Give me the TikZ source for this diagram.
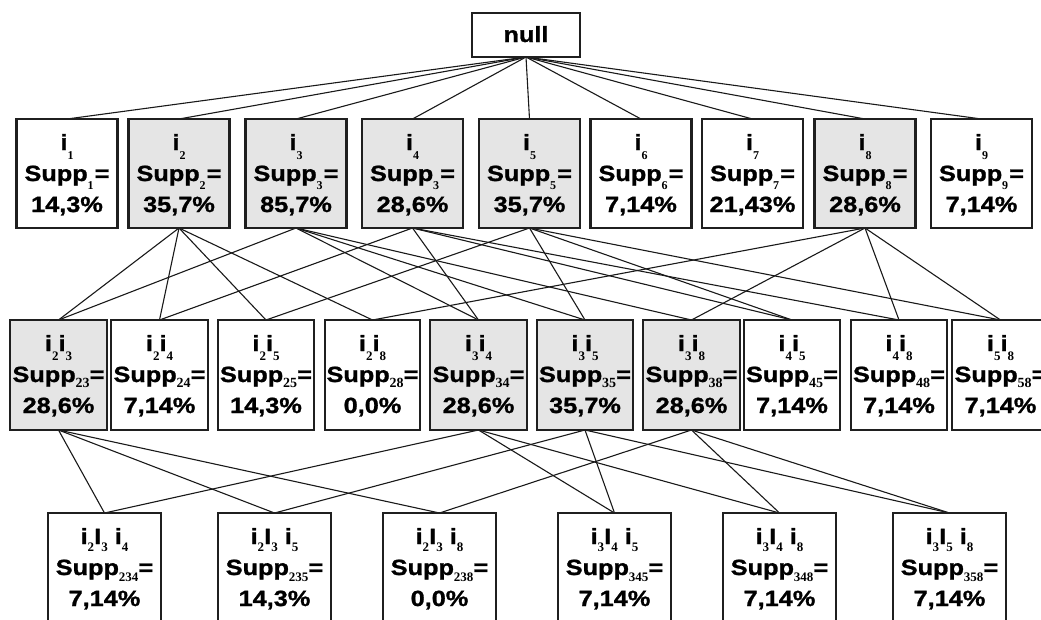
\documentclass[tikz,border=0pt]{standalone}
\usepackage{fontspec}
\newfontfamily\labelfont{Liberation Sans}[FakeStretch=1.15,BoldFeatures={FakeBold=1.2}]
\newfontfamily\indexfont{Liberation Serif}
% lowered index: size, drop, text
\newcommand\idx[3]{\raisebox{-#2pt}{\fontsize{#1}{#1}\selectfont\indexfont\bfseries #3}}
\newcommand\ixA[1]{\idx{12}{9}{#1}}
\newcommand\sxA[1]{\idx{12}{8}{#1}\hspace{1pt}}
\newcommand\ixB[1]{\idx{13}{9}{#1}}
\newcommand\sxB[1]{\idx{14}{5}{#1}}
\newcommand\ixC[1]{\idx{13}{7}{#1}}
\newcommand\sxC[1]{\idx{13}{6}{#1}}
\pgfdeclarelayer{bg}
\pgfsetlayers{bg,main}
\tikzset{
  cellbox/.style={draw=black!88, line width=2.2pt, fill=white, inner sep=0pt, outer sep=0pt},
  hot/.style={fill=black!10},
  lbl/.style={anchor=base, inner sep=0pt, font=\labelfont\bfseries\fontsize{22}{26}\selectfont},
  link/.style={line width=1.1pt, black!90},
}
% name, extra style, centre x, top y, width, height, three text lines
\newcommand\cell[9]{%
  \node[cellbox,#2,minimum width=#5pt,minimum height=#6pt,anchor=north] (#1) at (#3,#4) {};
  \node[lbl] (#1-a) at (#3,#4+31) {#7};
  \node[lbl] (#1-b) at (#3,#4+62) {#8};
  \node[lbl] (#1-c) at (#3,#4+93) {#9};
}
\begin{document}
\begin{tikzpicture}[x=1pt,y=-1pt]
\useasboundingbox (0,0) rectangle (1041,619);
\clip (0,0) rectangle (1041,619);

% root
\node[cellbox,minimum width=108pt,minimum height=44pt,anchor=north] (null) at (526,13) {};
\node[lbl] (null-a) at (526,42) {null};

% single items
\cell{i1}{}{67}{119}{101}{109}{i\ixA{1}}{Supp\sxA{1}=}{14,3\%}
\cell{i2}{hot}{179}{119}{101}{109}{i\ixA{2}}{Supp\sxA{2}=}{35,7\%}
\cell{i3}{hot}{296}{119}{101}{109}{i\ixA{3}}{Supp\sxA{3}=}{85,7\%}
\cell{i4}{hot}{412.5}{119}{101}{109}{i\ixA{4}}{Supp\sxA{3}=}{28,6\%}
\cell{i5}{hot}{529.5}{119}{101}{109}{i\ixA{5}}{Supp\sxA{5}=}{35,7\%}
\cell{i6}{}{641}{119}{101}{109}{i\ixA{6}}{Supp\sxA{6}=}{7,14\%}
\cell{i7}{}{752.5}{119}{101}{109}{i\ixA{7}}{Supp\sxA{7}=}{21,43\%}
\cell{i8}{hot}{865}{119}{101}{109}{i\ixA{8}}{Supp\sxA{8}=}{28,6\%}
\cell{i9}{}{981.5}{119}{101}{109}{i\ixA{9}}{Supp\sxA{9}=}{7,14\%}

% pairs
\cell{i23}{hot}{58.5}{320}{97}{110}{i\ixB{2}i\ixB{3}}{Supp\sxB{23}=}{28,6\%}
\cell{i24}{}{159.5}{320}{97}{110}{i\ixB{2}i\ixB{4}}{Supp\sxB{24}=}{7,14\%}
\cell{i25}{}{266}{320}{96}{110}{i\ixB{2}i\ixB{5}}{Supp\sxB{25}=}{14,3\%}
\cell{i28}{}{372.5}{320}{95}{110}{i\ixB{2}i\ixB{8}}{Supp\sxB{28}=}{0,0\%}
\cell{i34}{hot}{478.5}{320}{97}{110}{i\ixB{3}i\ixB{4}}{Supp\sxB{34}=}{28,6\%}
\cell{i35}{hot}{585}{320}{96}{110}{i\ixB{3}i\ixB{5}}{Supp\sxB{35}=}{35,7\%}
\cell{i38}{hot}{691.5}{320}{97}{110}{i\ixB{3}i\ixB{8}}{Supp\sxB{38}=}{28,6\%}
\cell{i45}{}{792}{320}{96}{110}{i\ixB{4}i\ixB{5}}{Supp\sxB{45}=}{7,14\%}
\cell{i48}{}{899}{320}{96}{110}{i\ixB{4}i\ixB{8}}{Supp\sxB{48}=}{7,14\%}
\cell{i58}{}{1000.5}{320}{97}{110}{i\ixB{5}i\ixB{8}}{Supp\sxB{58}=}{7,14\%}

% triples
\cell{i234}{}{104.5}{513}{113}{130}{i\ixC{2}I\ixC{3} i\ixC{4}}{Supp\sxC{234}=}{7,14\%}
\cell{i235}{}{274.5}{513}{113}{130}{i\ixC{2}I\ixC{3} i\ixC{5}}{Supp\sxC{235}=}{14,3\%}
\cell{i238}{}{439.5}{513}{113}{130}{i\ixC{2}I\ixC{3} i\ixC{8}}{Supp\sxC{238}=}{0,0\%}
\cell{i345}{}{614.5}{513}{113}{130}{i\ixC{3}I\ixC{4} i\ixC{5}}{Supp\sxC{345}=}{7,14\%}
\cell{i348}{}{779.5}{513}{113}{130}{i\ixC{3}I\ixC{4} i\ixC{8}}{Supp\sxC{348}=}{7,14\%}
\cell{i358}{}{949.5}{513}{113}{130}{i\ixC{3}I\ixC{5} i\ixC{8}}{Supp\sxC{358}=}{7,14\%}

\begin{pgfonlayer}{bg}
  \foreach \n in {i1,i2,i3,i4,i5,i6,i7,i8,i9}
    \draw[link] (null.south) -- (\n.north);
  \foreach \a/\b in {i2/i23,i2/i24,i2/i25,i2/i28,
                     i3/i23,i3/i34,i3/i35,i3/i38,
                     i4/i24,i4/i34,i4/i45,i4/i48,
                     i5/i25,i5/i35,i5/i45,i5/i58,
                     i8/i28,i8/i38,i8/i48,i8/i58}
    \draw[link] (\a.south) -- (\b.north);
  \foreach \a/\b in {i23/i234,i23/i235,i23/i238,
                     i34/i234,i34/i345,i34/i348,
                     i35/i235,i35/i345,i35/i358,
                     i38/i238,i38/i348,i38/i358}
    \draw[link] (\a.south) -- (\b.north);
\end{pgfonlayer}
\end{tikzpicture}
\end{document}
